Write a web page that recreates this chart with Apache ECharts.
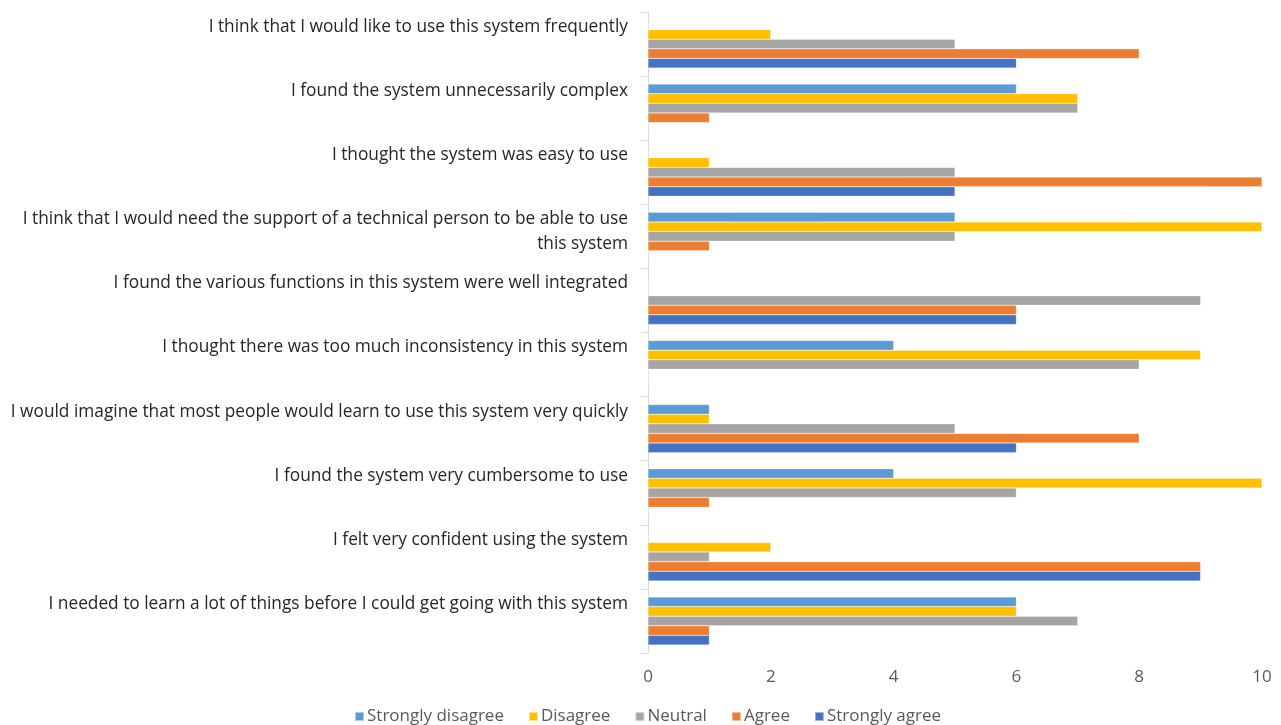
<!DOCTYPE html>
<html>
<head>
<meta charset="utf-8">
<script src="https://cdn.jsdelivr.net/npm/echarts@6/dist/echarts.min.js"></script>
<style>
html,body{margin:0;padding:0;background:#fff;}
#chart{width:1281px;height:725px;}
</style>
</head>
<body>
<div id="chart"></div>
<script>
const categories = [
  "I think that I would like to use this system frequently",
  "I found the system unnecessarily complex",
  "I thought the system was easy to use",
  "I think that I would need the support of a technical person to be able to use this system",
  "I found the various functions in this system were well integrated",
  "I thought there was too much inconsistency in this system",
  "I would imagine that most people would learn to use this system very quickly",
  "I found the system very cumbersome to use",
  "I felt very confident using the system",
  "I needed to learn a lot of things before I could get going with this system"
];
const seriesNames = ["Strongly disagree", "Disagree", "Neutral", "Agree", "Strongly agree"];
const stronglyDisagree = [0, 6, 0, 5, 0, 4, 1, 4, 0, 6];
const disagree         = [2, 7, 1, 10, 0, 9, 1, 10, 2, 6];
const neutral          = [5, 7, 5, 5, 9, 8, 5, 6, 1, 7];
const agree            = [8, 1, 10, 1, 6, 0, 8, 1, 9, 1];
const stronglyAgree    = [6, 0, 5, 0, 6, 0, 6, 0, 9, 1];
const xTicks = [0, 2, 4, 6, 8, 10];

const colors = ["#5B9BD5", "#FFC000", "#A5A5A5", "#ED7D31", "#4472C4"];
const values = [stronglyDisagree, disagree, neutral, agree, stronglyAgree];

function wrap(text, maxChars) {
  const words = text.split(' ');
  const lines = [];
  let cur = '';
  words.forEach(w => {
    if (cur && (cur + ' ' + w).length > maxChars) { lines.push(cur); cur = w; }
    else cur = cur ? cur + ' ' + w : w;
  });
  if (cur) lines.push(cur);
  while (lines.length < 2) lines.push(' ');
  return lines.map(l => '{t|' + l + '}').join('\n') + '\n{s| }';
}

const FONT = "'Open Sans', 'Noto Sans', sans-serif";
const chart = echarts.init(document.getElementById('chart'), null, {renderer: 'canvas'});
chart.setOption({
  animation: false,
  color: colors,
  textStyle: {fontFamily: FONT},
  grid: {left: 648, right: 19, top: 12, bottom: 72, containLabel: false},
  legend: {
    top: 703,
    left: 349,
    itemWidth: 9,
    itemHeight: 9,
    itemGap: 24,
    icon: 'rect',
    textStyle: {fontSize: 17, color: '#595959', fontFamily: FONT, padding: [0, 0, 0, -2]},
    data: seriesNames
  },
  xAxis: {
    type: 'value',
    min: 0, max: 10, interval: 2,
    axisLine: {show: false},
    axisTick: {show: false},
    splitLine: {show: false},
    axisLabel: {fontSize: 17, color: '#595959', margin: 16, fontFamily: FONT,
      formatter: v => xTicks.indexOf(v) >= 0 ? String(v) : ''}
  },
  yAxis: {
    type: 'category',
    inverse: true,
    data: categories,
    axisLine: {show: true, lineStyle: {color: '#d9d9d9', width: 1}},
    axisTick: {show: true, length: 7, lineStyle: {color: '#d9d9d9'}},
    axisLabel: {
      interval: 0, showMinLabel: true, showMaxLabel: true, hideOverlap: false,
      color: '#262626', margin: 20, fontFamily: FONT,
      align: 'right', verticalAlign: 'middle',
      formatter: v => wrap(v, 78),
      rich: {
        t: {fontSize: 17.3, lineHeight: 24.5, color: '#262626', fontFamily: FONT, align: 'right'},
        s: {fontSize: 8, lineHeight: 9.5, align: 'right'}
      }
    }
  },
  series: seriesNames.map((name, i) => ({
    name: name,
    type: 'bar',
    data: values[i],
    barGap: '0%',
    barCategoryGap: '25%',
    itemStyle: {color: colors[i], borderColor: 'rgba(255,255,255,0.5)', borderWidth: 0.5}
  }))
});
</script>
</body>
</html>
